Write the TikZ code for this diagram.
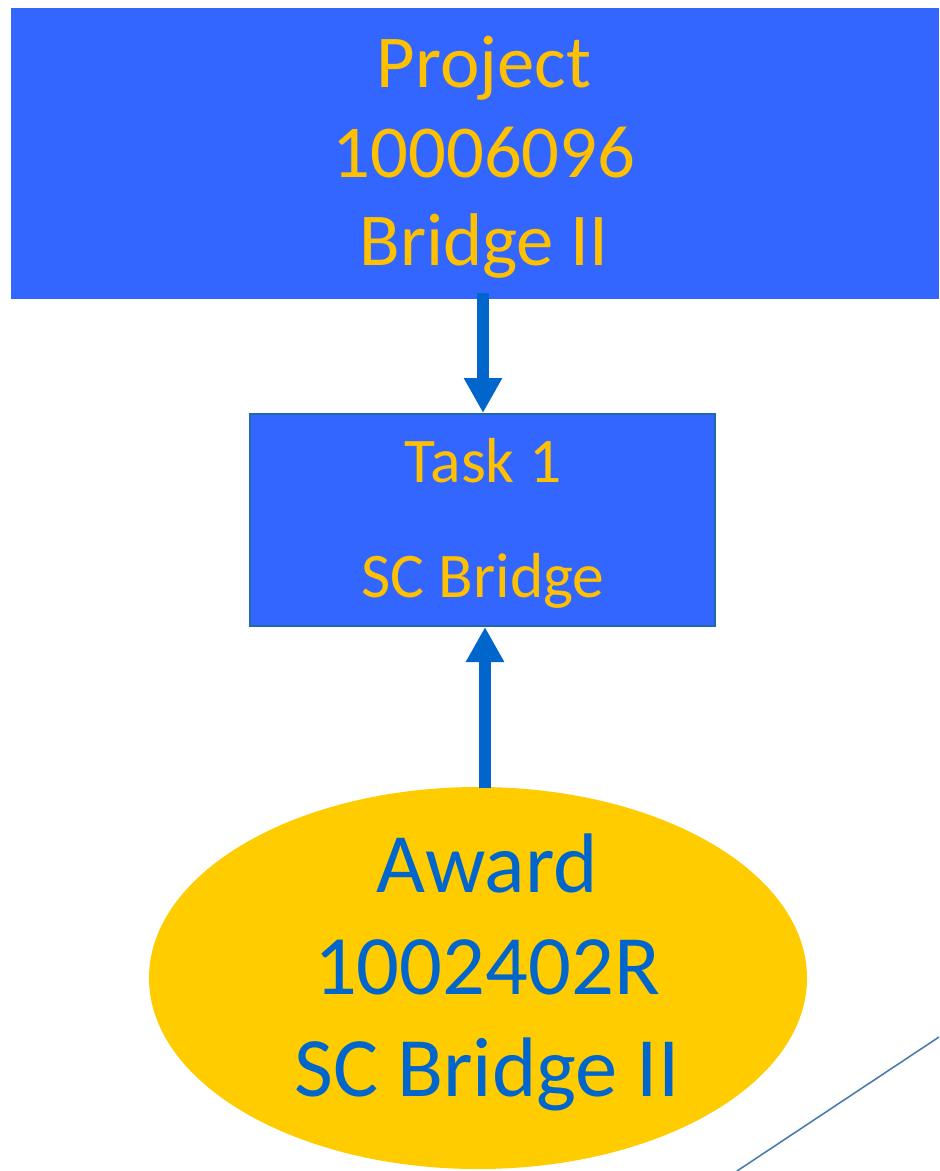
\documentclass[tikz,border=0pt]{standalone}
\usepackage{fontspec}
\setmainfont{Carlito}
\usetikzlibrary{arrows.meta,shapes.geometric}
\definecolor{boxblue}{HTML}{3366FF}
\definecolor{boxedge}{HTML}{1F6AA8}
\definecolor{gold}{HTML}{FFC000}
\definecolor{ovalfill}{HTML}{FFCC00}
\definecolor{darkblue}{HTML}{0066CC}
\definecolor{thinline}{HTML}{4A7EAE}
\tikzset{
  bigarrow/.style={draw=darkblue, line width=9.5pt,
    -{Triangle[length=26.25pt,width=27pt]}},
  toptext/.style={anchor=base, text=gold, inner sep=0pt, font=\fontsize{56}{66}\selectfont},
  tasktext/.style={anchor=base, text=gold, inner sep=0pt, font=\fontsize{47.7}{56}\selectfont},
  ovaltext/.style={anchor=base, text=darkblue, inner sep=0pt, font=\fontsize{63.4}{76}\selectfont},
}
\begin{document}
\begin{tikzpicture}[x=0.75pt,y=-0.75pt]
  % page
  \fill[white] (0,0) rectangle (939,1171);
  \useasboundingbox (0,0) rectangle (939,1171);

  % project box
  \node[fill=boxblue, inner sep=0pt, minimum width=696pt, minimum height=218.25pt]
    (project) at (475,153.5) {};
  \node[toptext] (p1) at (484,87) {Project};
  \node[toptext] (p2) at (484,177) {10006096};
  \node[toptext] (p3) at (484,265) {Bridge II};

  % task box
  \node[fill=boxblue, draw=boxedge, line width=1.5pt, inner sep=0pt,
        minimum width=348.75pt, minimum height=159pt]
    (task) at (482.5,520) {};
  \node[tasktext] (t1) at (483,482) {Task 1};
  \node[tasktext] (t2) at (483,597) {SC Bridge};

  % award oval
  \node[ellipse, fill=ovalfill, inner sep=0pt, minimum width=493.5pt, minimum height=286.5pt]
    (award) at (478,978) {};
  \node[ovaltext] (a1) at (487,892) {Award};
  \node[ovaltext] (a2) at (487,994) {1002402R};
  \node[ovaltext] (a3) at (487,1096) {SC Bridge II};

  % connectors
  \coordinate (down) at (483,293);
  \draw[bigarrow] (down) -- (down |- task.north);
  \coordinate (up) at (485,788);
  \draw[bigarrow] (up) -- (up |- task.south);

  % thin diagonal line at the lower right
  \coordinate (l1) at (737,1171);
  \coordinate (l2) at (939,1037);
  \draw[thinline, line width=1.2pt] (l1) -- (l2);
\end{tikzpicture}
\end{document}
